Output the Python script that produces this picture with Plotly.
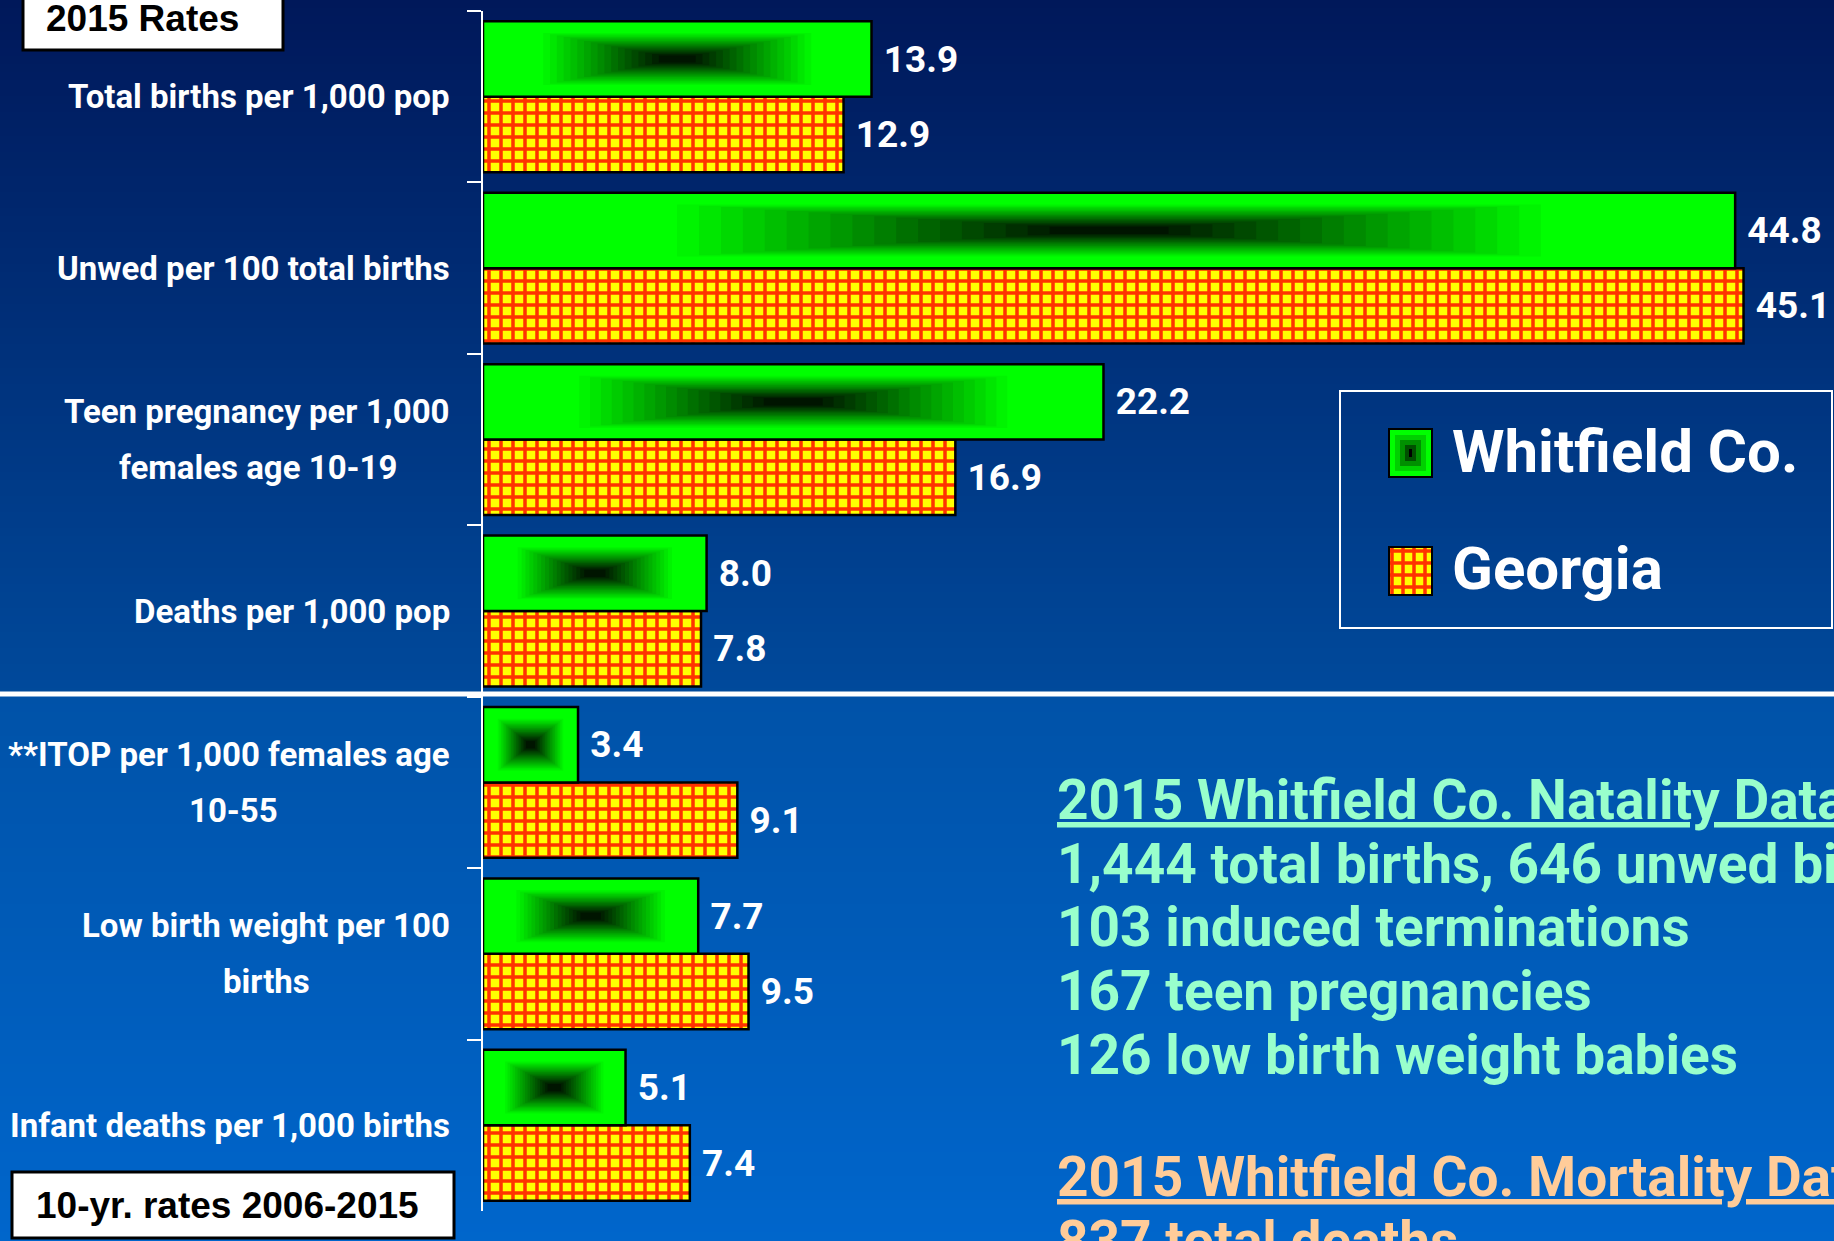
import plotly.graph_objects as go

# Data
categories = [
    "Total births per 1,000 pop",
    "Unwed per 100 total births",
    "Teen pregnancy per 1,000<br>females age 10-19",
    "Deaths per 1,000 pop",
    "**ITOP per 1,000 females age<br>10-55",
    "Low birth weight per 100<br>births",
    "Infant deaths per 1,000 births",
]
whitfield = [13.9, 44.8, 22.2, 8.0, 3.4, 7.7, 5.1]
georgia = [12.9, 45.1, 16.9, 7.8, 9.1, 9.5, 7.4]
series_names = ["Whitfield Co.", "Georgia"]

natality_lines = [
    "<u>2015 Whitfield Co. Natality Data</u>",
    "1,444 total births, 646 unwed births",
    "103 induced terminations",
    "167 teen pregnancies",
    "126 low birth weight babies",
]
mortality_lines = [
    "<u>2015 Whitfield Co. Mortality Data</u>",
    "837 total deaths",
]
top_box_text = "2015 Rates"
bottom_box_text = "10-yr. rates 2006-2015"

W, H = 1834, 1241
CONDENSED = "Roboto, Liberation Sans, sans-serif"
WIDE = "Liberation Sans, Arial, sans-serif"

# where the second line of a two-line label is centred (pixels)
second_line_centre = [None, None, 258, None, 233, 266, None]


def px(x):
    return x / W


def py(y):
    return 1 - y / H


def mix(c1, c2, f):
    return "rgb(%d,%d,%d)" % tuple(round(a + (b - a) * f) for a, b in zip(c1, c2))


shapes = []

# background gradient, darker at the top, split at the white rule
for y0 in range(0, H, 8):
    if y0 < 694:
        col = mix((0, 24, 90), (0, 74, 156), y0 / 694)
    else:
        col = mix((0, 82, 168), (0, 102, 204), (y0 - 694) / (H - 694))
    shapes.append(dict(type="rect", xref="paper", yref="paper", layer="below",
                       x0=0, x1=1, y0=py(y0 + 8), y1=py(y0),
                       fillcolor=col, line=dict(width=0)))

fig = go.Figure()

BAR_W = 0.44
TEXT_FONT = dict(family=CONDENSED, size=37, color="white", weight="bold")

fig.add_trace(go.Bar(
    y=categories, x=georgia, orientation="h", name=series_names[1],
    offset=0, width=BAR_W,
    marker=dict(color="#ffff00",
                pattern=dict(shape="+", fgcolor="#ff3300", bgcolor="#ffff00",
                             size=12, solidity=0.5, fillmode="replace"),
                line=dict(color="black", width=2.5)),
    texttemplate=" %{x:.1f}", textposition="outside", textfont=TEXT_FONT,
    constraintext="none", cliponaxis=False, hoverinfo="skip",
))

fig.add_trace(go.Bar(
    y=categories, x=whitfield, orientation="h", name=series_names[0],
    offset=-BAR_W, width=BAR_W,
    marker=dict(color="#00ff00", line=dict(color="black", width=2.5)),
    texttemplate=" %{x:.1f}", textposition="outside", textfont=TEXT_FONT,
    constraintext="none", cliponaxis=False, hoverinfo="skip",
))

# rectangular gradient toward a dark centre, as nested bars
for k in range(20):
    t = 0.12 + 0.0175 * k
    g = max(0, min(255, round(255 * (0.48 - t) / 0.34)))
    w = BAR_W * (1 - 2 * t)
    fig.add_trace(go.Bar(
        y=categories, x=[v * (1 - 2 * t) for v in whitfield],
        base=[v * t for v in whitfield], orientation="h",
        offset=-BAR_W / 2 - w / 2, width=w,
        marker=dict(color="rgb(0,%d,0)" % g, line=dict(width=0)),
        hoverinfo="skip", showlegend=False,
    ))

LABEL_FONT = dict(family=CONDENSED, size=33, color="white", weight="bold")
annotations = []
for cat, centre in zip(categories, second_line_centre):
    parts = cat.split("<br>")
    if len(parts) == 1:
        annotations.append(dict(x=px(452), xref="paper", y=cat, yref="y",
                                xanchor="right", yanchor="middle", text=cat,
                                showarrow=False, font=LABEL_FONT))
    else:
        annotations.append(dict(x=px(452), xref="paper", y=cat, yref="y",
                                xanchor="right", yanchor="middle", text=parts[0],
                                yshift=28, showarrow=False, font=LABEL_FONT))
        annotations.append(dict(x=px(centre), xref="paper", y=cat, yref="y",
                                xanchor="center", yanchor="middle", text=parts[1],
                                yshift=-28, showarrow=False, font=LABEL_FONT))

# white rule between the 2015 rates and the 10-year rates
shapes.append(dict(type="line", xref="paper", yref="paper", x0=0, x1=1,
                   y0=py(694), y1=py(694), line=dict(color="white", width=5)))

# label boxes
shapes.append(dict(type="rect", xref="paper", yref="paper", x0=px(23), x1=px(283),
                   y0=py(50), y1=py(-5), fillcolor="white",
                   line=dict(color="black", width=3)))
annotations.append(dict(x=px(142), y=py(19), xref="paper", yref="paper",
                        xanchor="center", yanchor="middle",
                        text="<b>%s</b>" % top_box_text, showarrow=False,
                        font=dict(family=WIDE, size=37, color="black")))
shapes.append(dict(type="rect", xref="paper", yref="paper", x0=px(12), x1=px(454),
                   y0=py(1238), y1=py(1172), fillcolor="white",
                   line=dict(color="black", width=3)))
annotations.append(dict(x=px(227), y=py(1205), xref="paper", yref="paper",
                        xanchor="center", yanchor="middle",
                        text="<b>%s</b>" % bottom_box_text, showarrow=False,
                        font=dict(family=WIDE, size=37, color="black")))

# legend box drawn by hand so the swatches can be large
shapes.append(dict(type="rect", xref="paper", yref="paper", x0=px(1340), x1=px(1832),
                   y0=py(628), y1=py(391), line=dict(color="white", width=2)))
for i, col in enumerate(["#00ff00", "#00d000", "#009000", "#005000", "#000000"]):
    d = [0, 6, 11, 16, 20][i]
    shapes.append(dict(type="rect", xref="paper", yref="paper",
                       x0=px(1389 + d), x1=px(1432 - d), y0=py(477 - d), y1=py(429 + d),
                       fillcolor=col,
                       line=dict(color="black", width=2 if i == 0 else 0)))
shapes.append(dict(type="rect", xref="paper", yref="paper", x0=px(1389), x1=px(1432),
                   y0=py(595), y1=py(547), fillcolor="#ffff00", line=dict(width=0)))
for off in [3, 14, 25, 36]:
    shapes.append(dict(type="line", xref="paper", yref="paper",
                       x0=px(1389 + off), x1=px(1389 + off), y0=py(595), y1=py(547),
                       line=dict(color="#ff3300", width=3.5)))
for off in [4, 16, 28, 40]:
    shapes.append(dict(type="line", xref="paper", yref="paper",
                       x0=px(1389), x1=px(1432), y0=py(547 + off), y1=py(547 + off),
                       line=dict(color="#ff3300", width=3.5)))
shapes.append(dict(type="rect", xref="paper", yref="paper", x0=px(1389), x1=px(1432),
                   y0=py(595), y1=py(547), line=dict(color="black", width=2)))
for name, yc in zip(series_names, [451, 568]):
    annotations.append(dict(x=px(1450), y=py(yc), xref="paper", yref="paper",
                            xanchor="left", yanchor="middle", text=name,
                            showarrow=False,
                            font=dict(family=CONDENSED, size=60, color="white",
                                      weight="bold")))

# side notes
for line, yc in zip(natality_lines, [800, 864, 927, 991, 1055]):
    annotations.append(dict(x=px(1055), y=py(yc), xref="paper", yref="paper",
                            xanchor="left", yanchor="middle", text=line,
                            showarrow=False,
                            font=dict(family=CONDENSED, size=55, color="#99ffcc",
                                      weight="bold")))
for line, yc in zip(mortality_lines, [1177, 1241]):
    annotations.append(dict(x=px(1055), y=py(yc), xref="paper", yref="paper",
                            xanchor="left", yanchor="middle", text=line,
                            showarrow=False,
                            font=dict(family=CONDENSED, size=55, color="#ffcc99",
                                      weight="bold")))

fig.update_layout(
    width=W, height=H,
    margin=dict(l=0, r=0, t=0, b=0, autoexpand=False),
    paper_bgcolor="#003a80",
    plot_bgcolor="rgba(0,0,0,0)",
    barmode="overlay",
    showlegend=False,
    shapes=shapes,
    annotations=annotations,
    font=dict(family=CONDENSED, color="white"),
)
fig.update_xaxes(domain=[px(483), 1], range=[0, (W - 483) / 27.95], visible=False)
fig.update_yaxes(
    domain=[30 / H, 1 - 11 / H], type="category",
    categoryorder="array", categoryarray=categories, range=[6.5, -0.5],
    showline=True, linecolor="white", linewidth=2,
    ticks="outside", tickson="boundaries", ticklen=14, tickcolor="white", tickwidth=2,
    showticklabels=False, showgrid=False, zeroline=False,
)

fig.write_html("out.html", config={"displayModeBar": False},
               post_script="document.body.style.margin = '0';")
